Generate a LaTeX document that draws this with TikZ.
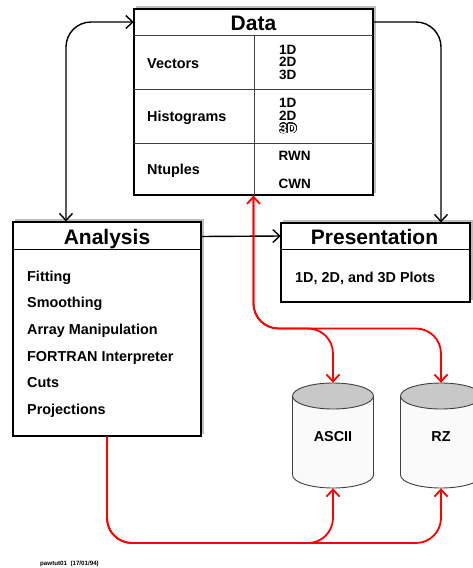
\documentclass[tikz,border=0pt]{standalone}
\usepackage{fontspec}
\setmainfont{Liberation Sans}
\usepackage{contour}
\contourlength{0.5pt}
\usetikzlibrary{arrows.meta,backgrounds}
\definecolor{shadowgray}{HTML}{BDBDBD}
\definecolor{cylbody}{HTML}{FAFAFA}
\definecolor{cyltop}{HTML}{C8C8C8}
\definecolor{cylline}{HTML}{404040}
\newcommand\titlefont{\fontsize{21}{24}\selectfont\bfseries}
\newcommand\itemfont{\fontsize{14.4}{16}\selectfont\bfseries}
\newcommand\stackfont{\fontsize{13.5}{14}\selectfont\bfseries}
\newcommand\footfont{\fontsize{6.2}{7}\selectfont\bfseries}
\tikzset{vtip/.tip={Straight Barb[length=7pt,width=13pt]}}
\begin{document}
\begin{tikzpicture}[x=1pt,y=-1pt,
  box/.style={draw=black, line width=1.1pt, fill=white, inner sep=0pt},
  shadowfill/.style={fill=shadowgray},
  band/.style={inner sep=0pt},
  txt/.style={inner sep=0pt, anchor=base west},
  ctxt/.style={inner sep=0pt, anchor=base},
  inner/.style={draw=black!75, line width=0.9pt},
  blk/.style={draw=black, line width=1.4pt, rounded corners=25pt},
  redc/.style={draw=red, line width=1.8pt, rounded corners=25pt},
  cylout/.style={draw=cylline, line width=0.9pt}
]
\useasboundingbox (0,0) rectangle (472,568);

% ---------- Data ----------
\node[box, minimum width=239pt, minimum height=186pt] (data) at (253.5,102) {};
\node[band, minimum width=239pt, minimum height=26pt] (datahead) at (253.5,22) {};
\draw[inner] (134,35) -- (373,35);
\draw[inner] (134,89) -- (373,89);
\draw[inner] (134,143) -- (373,143);
\draw[inner] (254,35) -- (254,195);
\node[ctxt, font=\titlefont] (datatitle) at (253.5,30) {Data};
\node[txt, font=\itemfont] (vec) at (147,68.3) {Vectors};
\node[txt, font=\stackfont] (v1) at (279,54) {1D};
\node[txt, font=\stackfont] (v2) at (279,66.7) {2D};
\node[txt, font=\stackfont] (v3) at (279,79.5) {3D};
\node[txt, font=\itemfont] (his) at (147,121.7) {Histograms};
\node[txt, font=\stackfont] (h1) at (279,107.3) {1D};
\node[txt, font=\stackfont] (h2) at (279,120) {2D};
\node[txt, font=\stackfont] (h3) at (279.5,133) {\contour{black}{\textcolor{white}{3D}}};
\node[txt, font=\itemfont] (ntu) at (147,174.3) {Ntuples};
\node[txt, font=\stackfont] (rwn) at (278.5,160.7) {RWN};
\node[txt, font=\stackfont] (cwn) at (278.5,188.3) {CWN};

% ---------- Analysis ----------
\node[box, minimum width=188pt, minimum height=214pt] (analysis) at (107,329) {};
\node[band, minimum width=188pt, minimum height=27pt] (anahead) at (107,236.5) {};
\draw[line width=1.1pt] (13,249.5) -- (201,249.5);
\node[ctxt, font=\titlefont] (anatitle) at (107,244.3) {Analysis};
\node[txt, font=\itemfont] (fit) at (27,281) {Fitting};
\node[txt, font=\itemfont] (smo) at (27,307.7) {Smoothing};
\node[txt, font=\itemfont] (arr) at (27,334.4) {Array Manipulation};
\node[txt, font=\itemfont] (fort) at (27,361) {FORTRAN Interpreter};
\node[txt, font=\itemfont] (cut) at (27,387.8) {Cuts};
\node[txt, font=\itemfont] (proj) at (27,414.5) {Projections};

% ---------- Presentation ----------
\node[box, minimum width=189pt, minimum height=79pt] (pres) at (375.5,262.5) {};
\node[band, minimum width=189pt, minimum height=26pt] (preshead) at (375.5,236) {};
\draw[line width=1.1pt] (281,249.5) -- (470,249.5);
\node[ctxt, font=\titlefont] (prestitle) at (374.5,244.3) {Presentation};
\node[txt, font=\itemfont] (plots) at (295,282) {1D, 2D, and 3D Plots};

% ---------- Shadows (behind the boxes) ----------
\begin{scope}[on background layer]
  \foreach \b in {data, analysis, pres}{
    \fill[shadowfill] ([shift={(2.5,-2.5)}]\b.south west) rectangle ([shift={(2.5,-2.5)}]\b.north east);
  }
\end{scope}

% ---------- Cylinders ----------
\foreach \cx/\nm/\lbl in {333/ascii/ASCII, 441/rz/RZ}{
  \fill[cylbody] (\cx-40.5,396) rectangle (\cx+40.5,475);
  \fill[cylbody] (\cx,475) ellipse [x radius=40.5, y radius=13];
  \begin{scope}
    \clip (\cx-42,475) rectangle (\cx+42,491);
    \draw[cylout] (\cx,475) ellipse [x radius=40.5, y radius=13];
  \end{scope}
  \draw[cylout] (\cx-40.5,396) -- (\cx-40.5,475);
  \draw[cylout] (\cx+40.5,396) -- (\cx+40.5,475);
  \filldraw[cylout, fill=cyltop] (\cx,396) ellipse [x radius=40.5, y radius=13];
  \node[inner sep=0pt, minimum width=81pt, minimum height=105pt] (\nm) at (\cx,435.5) {};
  \node[ctxt, font=\itemfont] (\nm label) at (\cx,441.7) {\lbl};
}

% ---------- Black connectors ----------
\draw[blk, vtip-vtip] (datahead.west) -- (66,22) -- (66,0 |- analysis.north);
\draw[blk, -vtip] (datahead.east) -- (441,22) -- (441,0 |- pres.north);
\draw[blk, -vtip] (anahead.east) -- (preshead.west);

% ---------- Red connectors ----------
\draw[redc, vtip-vtip] (data.south) -- (253.5,328.5) -- (441,328.5) -- (rz.north);
\draw[redc, -vtip] (data.south) -- (253.5,328.5) -- (333,328.5) -- (ascii.north);
\draw[redc, -vtip] (analysis.south) -- (107,543) -- (441,543) -- (rz.south);
\draw[redc, -vtip] (analysis.south) -- (107,543) -- (333,543) -- (ascii.south);

% ---------- Footer ----------
\node[txt, font=\footfont] (foot) at (40,565.5) {pawtut01\ \ (17/01/94)};
\end{tikzpicture}
\end{document}
